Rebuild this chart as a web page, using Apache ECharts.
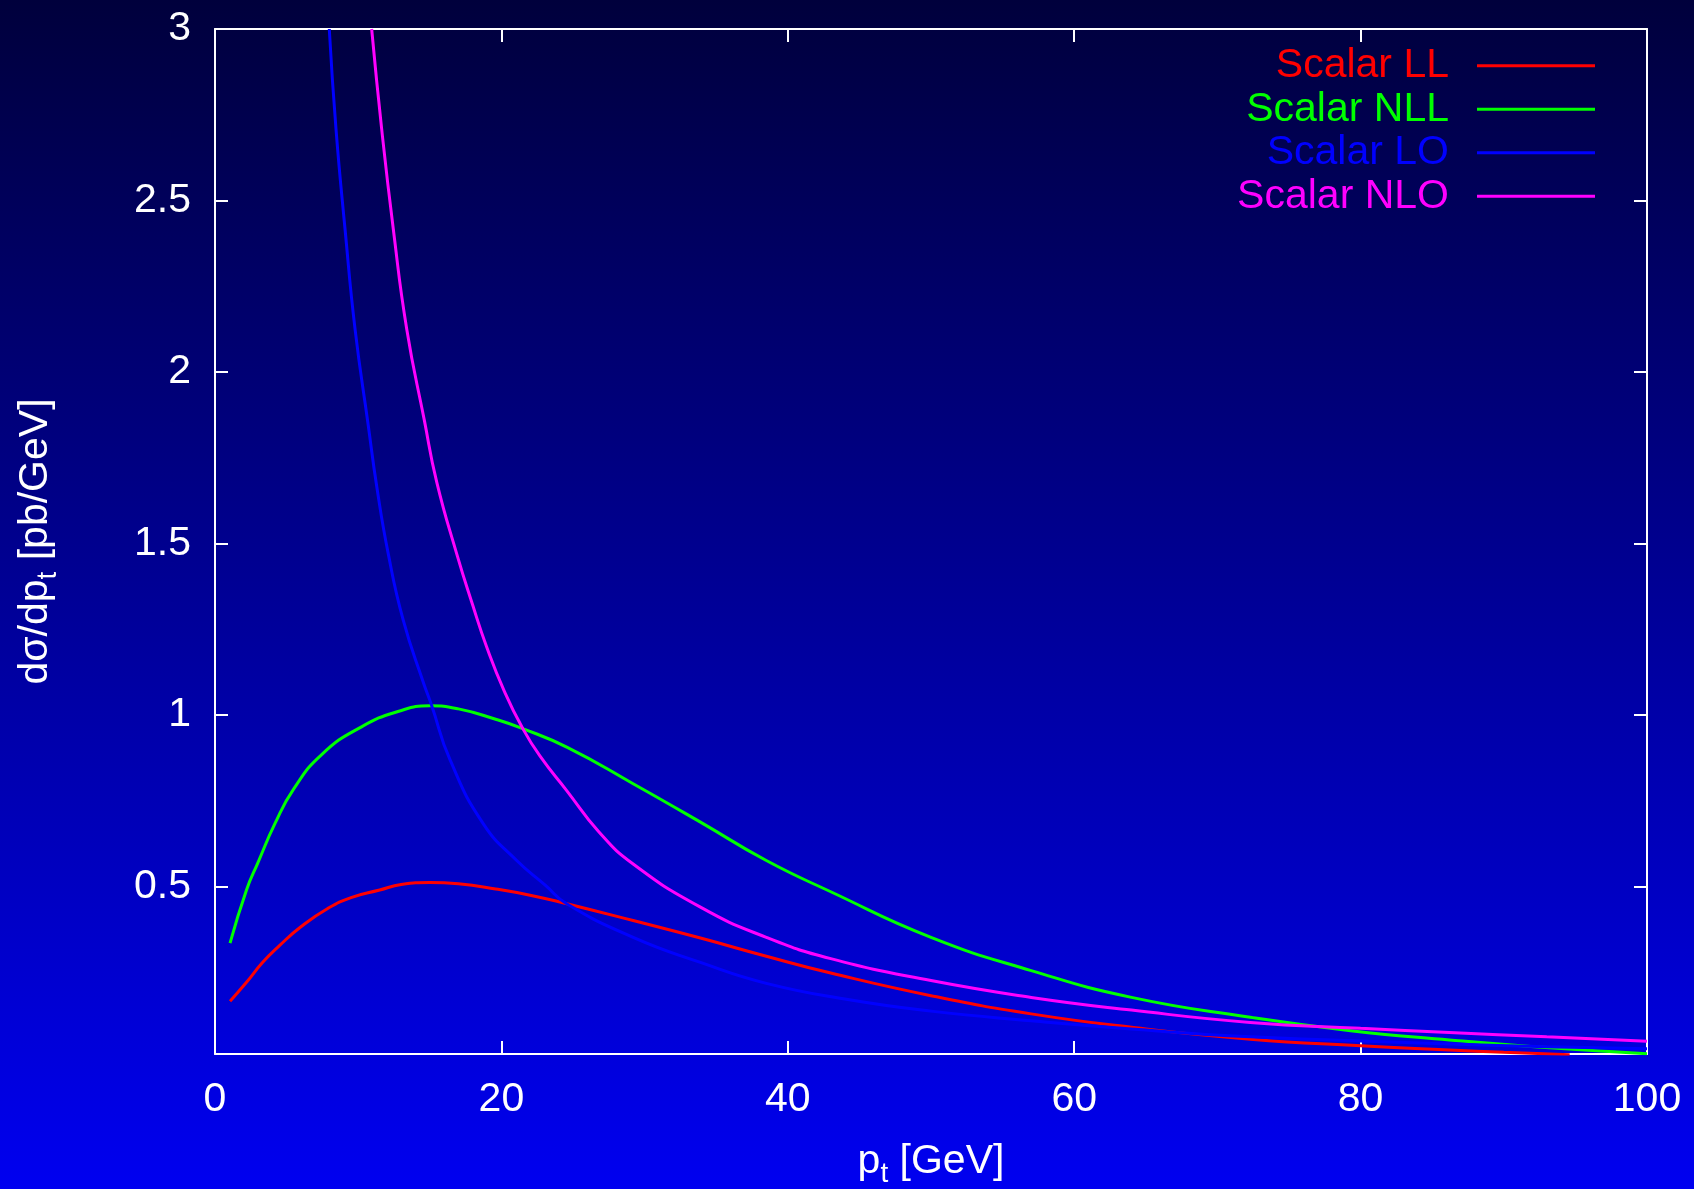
<!DOCTYPE html>
<html lang="en">
<head>
    <meta charset="UTF-8">
    <title>Scalar pt spectrum</title>
    <style>
        html, body { margin: 0; padding: 0; }
        #main { width: 1694px; height: 1189px; background: linear-gradient(#00003c, #0000f0); }
    </style>
</head>
<body>
<script src="https://cdn.jsdelivr.net/npm/echarts@6/dist/echarts.min.js"></script>
<div id="main"></div>
<script>
    var seriesNames = ['Scalar LL', 'Scalar NLL', 'Scalar LO', 'Scalar NLO'];
    var seriesColors = ['#ff0000', '#00ff00', '#0000ff', '#ff00ff'];
    var xTicks = [0, 20, 40, 60, 80, 100];
    var yTicks = [0.5, 1, 1.5, 2, 2.5, 3];

    // [pt, dsigma/dpt]
    var scalarLL = [
        [1.05, 0.166], [2.2, 0.221], [3.3, 0.278], [4.5, 0.328], [6, 0.383], [7.9, 0.437],
        [9.5, 0.468], [11.5, 0.49], [13, 0.506], [15, 0.512], [17, 0.508], [19.6, 0.493],
        [22, 0.475], [24.56, 0.45], [29.2, 0.401], [33.9, 0.35], [38.5, 0.297], [43, 0.248],
        [50, 0.182], [57, 0.129], [64, 0.09], [72.3, 0.055], [80, 0.036], [86.2, 0.024],
        [90, 0.017], [94.6, 0.01]
    ];
    var scalarNLL = [
        [1.05, 0.335], [2.2, 0.49], [3, 0.57], [4.2, 0.685], [5.5, 0.785], [7.45, 0.885],
        [10.2, 0.965], [12.9, 1.012], [15, 1.027], [17, 1.018], [19.6, 0.988],
        [21.4, 0.962], [24.6, 0.906], [29.2, 0.8], [33.9, 0.688], [38.5, 0.576], [43, 0.485],
        [50, 0.352], [57, 0.255], [64, 0.177], [72.3, 0.119], [79.3, 0.08], [86.2, 0.053],
        [93.2, 0.03], [100, 0.013]
    ];
    var scalarLO = [
        [7.98, 3.0], [8.45, 2.708], [9.08, 2.417], [9.78, 2.125], [10.7, 1.845], [11.3, 1.665],
        [12.1, 1.47], [13.15, 1.276], [14.55, 1.095], [15.13, 1.028], [16.41, 0.87], [18.74, 0.683],
        [21.07, 0.576], [23.04, 0.505], [24.56, 0.45], [29.2, 0.352], [33.9, 0.279], [38.5, 0.218],
        [44.3, 0.17], [50, 0.137], [57, 0.109], [64, 0.085], [72.3, 0.062], [80, 0.05],
        [86.2, 0.041], [93, 0.033], [100, 0.027]
    ];
    var scalarNLO = [
        [10.94, 3.0], [11.64, 2.708], [12.45, 2.417], [13.39, 2.125], [14.62, 1.859], [15.48, 1.68],
        [16.88, 1.47], [18, 1.32], [18.96, 1.2], [20.2, 1.07], [21.5, 0.96], [22.7, 0.88],
        [24.56, 0.78], [26.8, 0.66], [29.2, 0.566], [33.9, 0.44], [38.5, 0.352], [43, 0.29],
        [50, 0.226], [57, 0.177], [64, 0.14], [72.3, 0.104], [80, 0.087], [86.2, 0.075],
        [93, 0.062], [100, 0.049]
    ];
    var seriesData = [scalarLL, scalarNLL, scalarLO, scalarNLO];

    var font = '"Liberation Sans", Arial, Helvetica, sans-serif';
    var white = '#ffffff';

    var nameRich = {
        m: { fontSize: 41, lineHeight: 44, verticalAlign: 'top', color: white, fontFamily: font },
        s: { fontSize: 28, lineHeight: 28, padding: [22, 0, 0, 0], color: white, fontFamily: font }
    };

    var frameAxis = function (extra) {
        var base = {
            axisLine: { show: true, onZero: false, lineStyle: { color: white, width: 2 } },
            axisTick: { show: true, inside: true, length: 13, lineStyle: { color: white, width: 2 } },
            splitLine: { show: false },
            axisLabel: { show: false }
        };
        for (var k in extra) {
            if (extra.hasOwnProperty(k)) base[k] = extra[k];
        }
        return base;
    };

    var series = [];
    for (var i = 0; i < seriesNames.length; i++) {
        series.push({
            name: seriesNames[i],
            type: 'line',
            data: seriesData[i],
            smooth: 0.5,
            symbol: 'none',
            showSymbol: false,
            clip: true,
            color: seriesColors[i],
            lineStyle: { color: seriesColors[i], width: 3 }
        });
    }

    var legendData = [];
    for (var j = 0; j < seriesNames.length; j++) {
        legendData.push({
            name: seriesNames[j],
            icon: 'rect',
            itemStyle: { color: seriesColors[j] },
            textStyle: { color: seriesColors[j] }
        });
    }

    var chart = echarts.init(document.getElementById('main'), null, { renderer: 'canvas' });
    chart.setOption({
        animation: false,
        backgroundColor: 'transparent',
        grid: { left: 215, right: 47, top: 29, bottom: 135, outerBoundsMode: 'none' },
        legend: {
            data: legendData,
            orient: 'vertical',
            align: 'right',
            right: 94,
            top: 39,
            itemWidth: 118,
            itemHeight: 3,
            itemGap: 0,
            selectedMode: false,
            textStyle: { fontSize: 41, lineHeight: 43.5, fontFamily: font, padding: [0, 23, 0, 0] }
        },
        xAxis: [
            frameAxis({
                type: 'value', min: 0, max: 100, interval: 20, position: 'bottom',
                name: '{m|p}{s|t}{m| [GeV]}',
                nameLocation: 'middle',
                nameGap: 87,
                nameTextStyle: { rich: nameRich },
                axisLabel: { show: true, color: white, fontSize: 41, fontFamily: font, margin: 25 }
            }),
            frameAxis({ type: 'value', min: 0, max: 100, interval: 20, position: 'top' })
        ],
        yAxis: [
            frameAxis({
                type: 'value', min: 0.012, max: 3, position: 'left',
                name: '{m|dσ/dp}{s|t}{m| [pb/GeV]}',
                nameLocation: 'middle',
                nameRotate: 90,
                nameGap: 156,
                nameTextStyle: { rich: nameRich },
                axisTick: { show: true, inside: true, length: 13, customValues: yTicks, lineStyle: { color: white, width: 2 } },
                axisLabel: { show: true, color: white, fontSize: 41, fontFamily: font, margin: 24, customValues: yTicks }
            }),
            frameAxis({
                type: 'value', min: 0.012, max: 3, position: 'right',
                axisTick: { show: true, inside: true, length: 13, customValues: yTicks, lineStyle: { color: white, width: 2 } }
            })
        ],
        series: series
    });
</script>
</body>
</html>
